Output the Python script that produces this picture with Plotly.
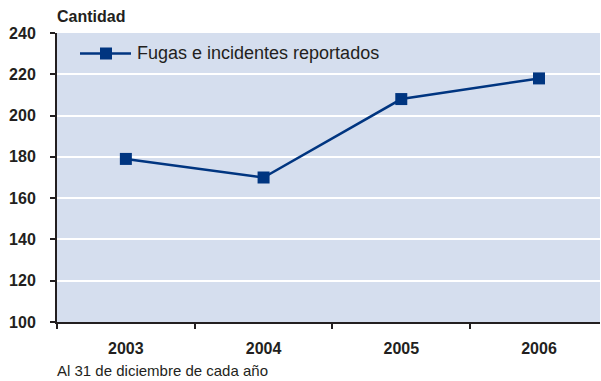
import plotly.graph_objects as go

years = ["2003", "2004", "2005", "2006"]
incidents = [179, 170, 208, 218]
series_name = "Fugas e incidentes reportados"
y_ticks = [100, 120, 140, 160, 180, 200, 220, 240]

navy = "#003580"
ink = "#231f20"
family = "Liberation Sans, Arial, sans-serif"

fig = go.Figure()
fig.add_trace(go.Scatter(
    x=years, y=incidents, mode="lines+markers",
    name=series_name, showlegend=False,
    line=dict(color=navy, width=2.5),
    marker=dict(symbol="square", size=12, color=navy),
))

# Legend drawn by hand so the key line is as long as the original
fig.add_shape(type="line", xref="paper", yref="paper",
              x0=(80 - 57) / 543, x1=(131 - 57) / 543, y0=(322 - 53.5) / 289, y1=(322 - 53.5) / 289,
              line=dict(color=navy, width=2.5))
fig.add_shape(type="rect", xref="paper", yref="paper",
              x0=(100 - 57) / 543, x1=(112 - 57) / 543, y0=(322 - 59.5) / 289, y1=(322 - 47.5) / 289,
              fillcolor=navy, line=dict(width=0))
fig.add_annotation(xref="paper", yref="paper", x=(135 - 57) / 543, y=(322 - 53.5) / 289,
                   text=series_name, showarrow=False, xanchor="left", yanchor="middle",
                   font=dict(family=family, size=18, color=ink))

fig.add_annotation(xref="paper", yref="paper", x=0, y=1, yshift=6, xshift=-2,
                   text="<b>Cantidad</b>", showarrow=False, xanchor="left", yanchor="bottom",
                   font=dict(family=family, size=16, color=ink))
fig.add_annotation(xref="paper", yref="paper", x=0, y=0, yshift=-59, xshift=-2,
                   text="Al 31 de diciembre de cada año", showarrow=False, xanchor="left", yanchor="bottom",
                   font=dict(family=family, size=15, color=ink))

fig.update_layout(
    width=601, height=381,
    margin=dict(l=57, r=1, t=33, b=59),
    paper_bgcolor="white", plot_bgcolor="#d5deee",
    font=dict(family=family, color=ink),
    xaxis=dict(
        type="category", categoryorder="array", categoryarray=years,
        tickvals=years, ticktext=[f"<b>{y}</b>" for y in years],
        range=[-0.5, 3.443], showgrid=False, zeroline=False,
        showline=True, linecolor=ink, linewidth=2,
        ticks="outside", ticklen=5, tickcolor=ink, tickwidth=1.5,
        tickson="boundaries",
        tickfont=dict(size=16, color=ink), ticklabelstandoff=11,
    ),
    yaxis=dict(
        range=[100, 240], tickvals=y_ticks, ticktext=[f"<b>{v}</b>" for v in y_ticks],
        showgrid=True, gridcolor="white", gridwidth=2, zeroline=False,
        showline=True, linecolor=ink, linewidth=2,
        ticks="outside", ticklen=5, tickcolor=ink, tickwidth=1.5,
        tickfont=dict(size=16, color=ink), ticklabelstandoff=11,
    ),
)

fig.write_html("out.html")
